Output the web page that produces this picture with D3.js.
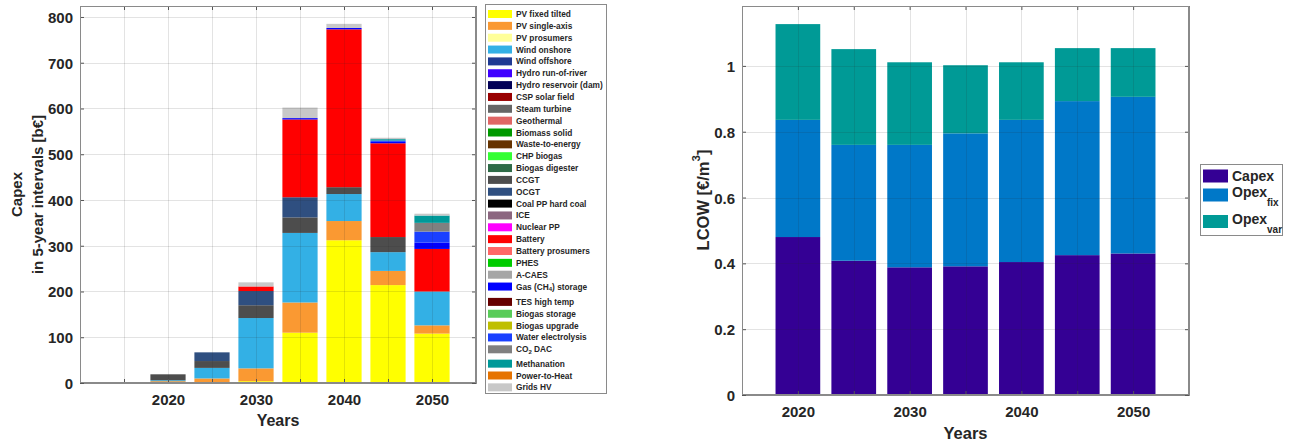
<!DOCTYPE html>
<html><head><meta charset="utf-8">
<script src="https://cdn.jsdelivr.net/npm/d3@7"></script>
<style>
body{margin:0;background:#fff;}
svg text{font-family:"Liberation Sans",Arial,sans-serif;font-weight:bold;fill:#262626;}
</style></head>
<body><svg id="c" width="1289" height="443"></svg>
<script>
// ---------- DATA (left: Capex in 5-year intervals, b€) ----------
const years = [2020, 2025, 2030, 2035, 2040, 2045, 2050];
const xTickLabels = [2020, 2030, 2040, 2050];
const yTicksLeft = [0, 100, 200, 300, 400, 500, 600, 700, 800];
const techNames = ["PV fixed tilted","PV single-axis","PV prosumers","Wind onshore","Wind offshore","Hydro run-of-river","Hydro reservoir (dam)","CSP solar field","Steam turbine","Geothermal","Biomass solid","Waste-to-energy","CHP biogas","Biogas digester","CCGT","OCGT","Coal PP hard coal","ICE","Nuclear PP","Battery","Battery prosumers","PHES","A-CAES","Gas (CH4) storage","TES high temp","Biogas storage","Biogas upgrade","Water electrolysis","CO2 DAC","Methanation","Power-to-Heat","Grids HV"];
const techColors = ["#ffff00","#fa9932","#ffff99","#33b0e5","#1f3a93","#3f00ff","#020057","#990000","#666666","#e06666","#009900","#663300","#33ff33","#2e6b47","#4d4d4d","#2f4f80","#000000","#8c6680","#ff00ff","#ff0000","#ff6666","#00cc00","#a6a6a6","#0000ff","#660000","#59cc59","#bfbf00","#1a40ff","#808080","#009999","#e67300","#c8c8c8"];
const pvFixed           = [1, 1, 4, 110, 312, 214, 108];
const pvSingle          = [3, 9, 28, 66, 42, 31, 18];
const windOnshore       = [2, 23, 110, 152, 59, 41, 74];
const ccgt              = [13, 15, 28, 34, 15, 33, 0];
const ocgt              = [0, 19, 31, 44, 0, 0, 0];
const battery           = [0, 0, 10, 170, 345, 205, 93];
const gasStorage        = [0, 0, 0, 3, 3, 3, 14];
const waterElectrolysis = [0, 0, 0, 0, 0, 3, 24];
const co2Dac            = [0, 0, 0, 0, 0, 0, 19];
const methanation       = [0, 0, 0, 0, 0, 3, 16];
const gridsHV           = [0, 0, 9, 23, 9, 3, 4];
const zeros             = [0, 0, 0, 0, 0, 0, 0];

// ---------- DATA (right: LCOW, €/m3) ----------
const lcowCapex   = [0.480, 0.408, 0.388, 0.391, 0.404, 0.425, 0.430];
const lcowOpexFix = [0.356, 0.352, 0.372, 0.404, 0.432, 0.468, 0.476];
const lcowOpexVar = [0.291, 0.291, 0.251, 0.207, 0.175, 0.161, 0.148];
const yTicksRight = [0, 0.2, 0.4, 0.6, 0.8, 1];
const lcowNames = ["Capex", "Opex_fix", "Opex_var"];
const lcowColors = ["#340094", "#0078c8", "#009a96"];

const techValues = {
  "PV fixed tilted": pvFixed, "PV single-axis": pvSingle, "Wind onshore": windOnshore,
  "CCGT": ccgt, "OCGT": ocgt, "Battery": battery, "Gas (CH4) storage": gasStorage,
  "Water electrolysis": waterElectrolysis, "CO2 DAC": co2Dac, "Methanation": methanation, "Grids HV": gridsHV
};

const svg = d3.select("#c");
const axisCol = "#8a8a8a", txtCol = "#262626";

function drawPanel(g, o) {
  const x = d3.scaleLinear().domain(o.xDomain).range([o.left, o.right]);
  const y = d3.scaleLinear().domain(o.yDomain).range([o.bottom, o.top]);
  const band = (x(2025) - x(2020)) * 0.8;
  const rows = years.map((yr, i) => {
    const r = {year: yr};
    o.keys.forEach((k, j) => r[k] = o.series[j][i]);
    return r;
  });
  const stacked = d3.stack().keys(o.keys)(rows);
  g.selectAll("g.layer").data(stacked).join("g").attr("fill", (d, i) => o.colors[i])
    .selectAll("rect").data(d => d.filter(p => p[1] - p[0] > 0)).join("rect")
    .attr("x", d => x(d.data.year) - band / 2).attr("width", band)
    .attr("y", d => y(d[1])).attr("height", d => y(d[0]) - y(d[1]));
  const gridTicksX = d3.range(o.xDomain[0], o.xDomain[1] + 0.1, 5);
  const grid = g.append("g").attr("stroke", "#262626").attr("stroke-opacity", 0.13).attr("stroke-width", 1);
  gridTicksX.slice(1, -1).forEach(t => grid.append("line").attr("x1", Math.round(x(t)) + 0.5).attr("x2", Math.round(x(t)) + 0.5).attr("y1", o.top).attr("y2", o.bottom));
  o.yTicks.slice(1).forEach(t => { if (y(t) > o.top + 1) grid.append("line").attr("x1", o.left).attr("x2", o.right).attr("y1", Math.round(y(t)) + 0.5).attr("y2", Math.round(y(t)) + 0.5); });
  const tl = 4;
  const xb = d3.axisBottom(x).tickValues(gridTicksX).tickSize(-tl).tickPadding(0).tickFormat(d => xTickLabels.includes(d) ? d : "");
  const xa = g.append("g").attr("transform", `translate(0,${o.bottom})`).call(xb);
  xa.selectAll("text").attr("dy", null).attr("y", 16).attr("dominant-baseline", "central").style("font-size", "15px").style("font-family", "Liberation Sans").style("font-weight", "bold").attr("fill", txtCol);
  const xt = d3.axisTop(x).tickValues(gridTicksX).tickSize(-tl).tickFormat("");
  g.append("g").attr("transform", `translate(0,${o.top})`).call(xt);
  const yl = d3.axisLeft(y).tickValues(o.yTicks).tickSize(-tl).tickPadding(0).tickFormat(o.yFmt);
  const ya = g.append("g").attr("transform", `translate(${o.left},0)`).call(yl);
  ya.selectAll("text").attr("x", -7).attr("dy", null).attr("dominant-baseline", "central").style("font-size", "15px").style("font-family", "Liberation Sans").style("font-weight", "bold").attr("fill", txtCol);
  const yr = d3.axisRight(y).tickValues(o.yTicks).tickSize(-tl).tickFormat("");
  g.append("g").attr("transform", `translate(${o.right},0)`).call(yr);
  g.selectAll(".domain").attr("stroke", axisCol);
  g.selectAll(".tick line").attr("stroke", "#555");
  g.append("rect").attr("x", o.left + 0.5).attr("y", o.top + 0.5).attr("width", o.right - o.left - 1).attr("height", o.bottom - o.top - 1)
    .attr("fill", "none").attr("stroke", axisCol);
  g.append("text").attr("x", (o.left + o.right) / 2).attr("y", o.xLabelY).attr("text-anchor", "middle").attr("dominant-baseline", "central")
    .style("font-size", o.xLabelSize + "px").text("Years");
  return {x, y};
}

// ---------- LEFT PANEL ----------
const gL = svg.append("g");
drawPanel(gL, {
  xDomain: [2010, 2055], yDomain: [0, 824], left: 80, right: 476, top: 6, bottom: 383,
  keys: techNames, series: techNames.map(n => techValues[n] || zeros), colors: techColors,
  yTicks: yTicksLeft, yFmt: d => d, xLabelY: 420, xLabelSize: 16
});
[["Capex", 16], ["in 5-year intervals [b€]", 37]].forEach(([t, xx]) => {
  gL.append("text").attr("transform", `translate(${xx},194.5) rotate(-90)`).attr("text-anchor", "middle")
    .attr("dominant-baseline", "central").style("font-size", "15px").text(t);
});
// left legend
const legL = svg.append("g");
legL.append("rect").attr("x", 485.5).attr("y", 4.5).attr("width", 121).attr("height", 389).attr("fill", "#fff").attr("stroke", axisCol);
techNames.forEach((n, i) => {
  const cy = 14 + i * 11.85 + (i > 23 ? 3.5 : 0) + (i > 28 ? 2.5 : 0);
  legL.append("rect").attr("x", 488).attr("y", cy - 4).attr("width", 24).attr("height", 8).attr("fill", techColors[i]);
  const t = legL.append("text").attr("x", 516).attr("y", cy).attr("dominant-baseline", "central").style("font-size", "8.3px");
  const m = n.match(/^(.*?)(CH|CO)(4|2)(.*)$/);
  if (m) {
    t.append("tspan").text(m[1] + m[2]);
    t.append("tspan").attr("dy", 2.5).style("font-size", "6px").text(m[3]);
    t.append("tspan").attr("dy", -2.5).text(m[4]);
  } else t.text(n);
});

// ---------- RIGHT PANEL ----------
const gR = svg.append("g");
drawPanel(gR, {
  xDomain: [2015, 2055], yDomain: [0, 1.182], left: 742, right: 1189, top: 6, bottom: 395,
  keys: lcowNames, series: [lcowCapex, lcowOpexFix, lcowOpexVar], colors: lcowColors,
  yTicks: yTicksRight, yFmt: d => d === 0 || d === 1 ? d3.format("d")(d) : d3.format(".1f")(d), xLabelY: 433, xLabelSize: 16.5
});
const yLab = gR.append("text").attr("transform", "translate(703,200) rotate(-90)").attr("text-anchor", "middle")
  .attr("dominant-baseline", "central").style("font-size", "16.5px");
yLab.append("tspan").text("LCOW [€/m");
yLab.append("tspan").attr("dy", -7).style("font-size", "11.5px").text("3");
yLab.append("tspan").attr("dy", 7).text("]");
// right legend
const legR = svg.append("g");
legR.append("rect").attr("x", 1200.5).attr("y", 164.5).attr("width", 82).attr("height", 71).attr("fill", "#fff").attr("stroke", axisCol);
const legRY = [176, 195, 221.5];
lcowNames.forEach((n, i) => {
  const cy = legRY[i];
  legR.append("rect").attr("x", 1203).attr("y", cy - 6.5).attr("width", 25).attr("height", 13).attr("fill", lcowColors[i]);
  const parts = n.split("_");
  const t = legR.append("text").attr("x", 1232).attr("y", parts.length > 1 ? cy - 3 : cy).attr("dominant-baseline", "central").style("font-size", "14px");
  t.append("tspan").text(parts[0]);
  if (parts[1]) t.append("tspan").attr("dy", 10).style("font-size", "10px").text(parts[1]);
});
</script></body></html>
